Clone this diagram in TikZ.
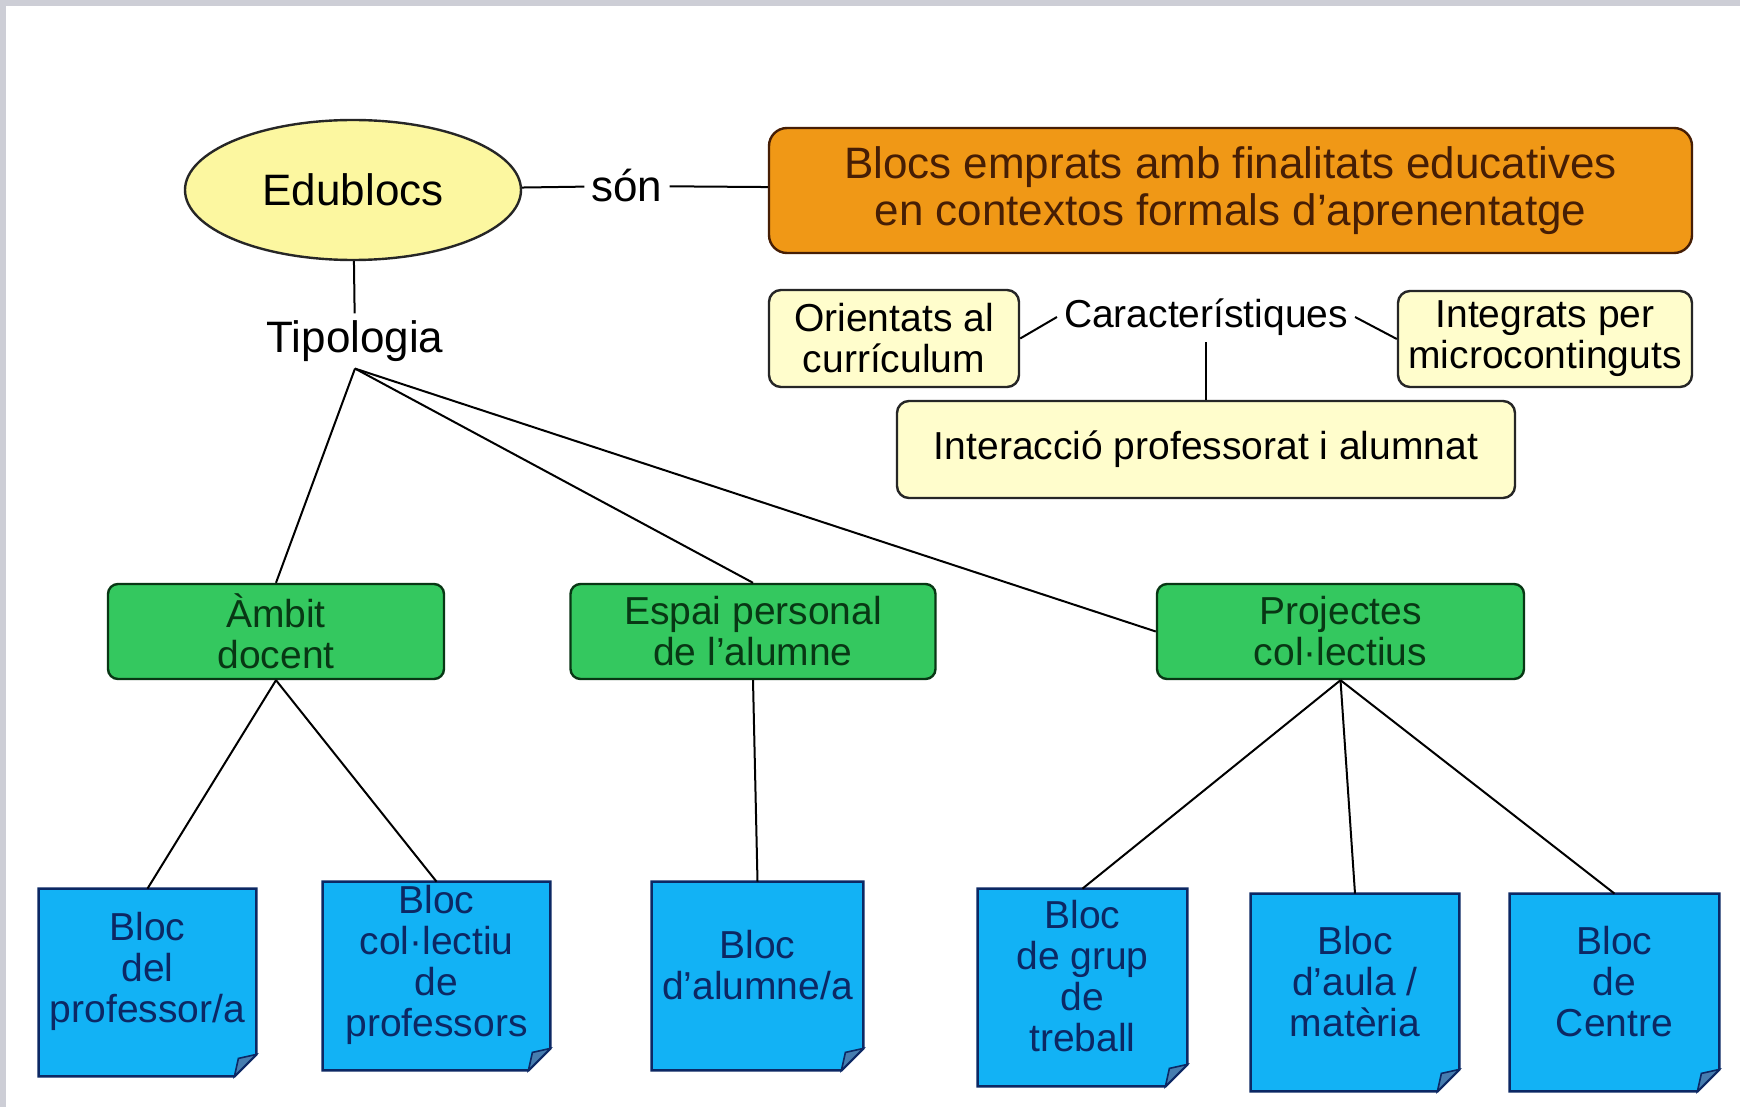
\documentclass[tikz,border=0pt]{standalone}
\usepackage{fontspec}
\setmainfont{Liberation Sans}
\usetikzlibrary{shapes.geometric}
\usetikzlibrary{calc}
\usetikzlibrary{positioning}

\definecolor{framegray}{RGB}{205,206,214}
\definecolor{ellfill}{RGB}{252,247,160}
\definecolor{orangefill}{RGB}{240,152,22}
\definecolor{orangeline}{RGB}{70,30,5}
\definecolor{palefill}{RGB}{255,253,204}
\definecolor{greenfill}{RGB}{52,200,95}
\definecolor{greentext}{RGB}{8,55,20}
\definecolor{bluefill}{RGB}{18,178,245}
\definecolor{bluetext}{RGB}{12,40,100}
\definecolor{foldfill}{RGB}{70,125,175}

\pgfdeclarelayer{sheets}
\pgfsetlayers{sheets,main}

% blue sheet with a folded bottom right corner, drawn behind node #1
\newcommand{\foldsheet}[1]{%
  \begin{pgfonlayer}{sheets}
    \filldraw[sheetline] (#1.north west) -- (#1.north east) -- ([yshift=11pt]#1.south east)
      -- ([xshift=-11pt]#1.south east) -- (#1.south west) -- cycle;
    \filldraw[foldline] ([yshift=11pt]#1.south east) -- ([xshift=-11pt]#1.south east)
      -- ([xshift=-9pt,yshift=9pt]#1.south east) -- cycle;
  \end{pgfonlayer}}

\begin{document}
\begin{tikzpicture}[x=0.5pt, y=-0.5pt,
  conn/.style={line width=1pt, draw=black},
  bigtxt/.style={font={\fontsize{22}{23.5}\selectfont}},
  smalltxt/.style={font={\fontsize{19.5}{20.5}\selectfont}, align=center},
  edubox/.style={ellipse, draw=black!85, line width=1.2pt, fill=ellfill,
    minimum width=168pt, minimum height=70pt, bigtxt},
  defbox/.style={rectangle, rounded corners=9pt, draw=orangeline, line width=1.2pt,
    fill=orangefill, text=orangeline, align=center, bigtxt},
  featbox/.style={rectangle, rounded corners=6pt, draw=black!85, line width=1.2pt,
    fill=palefill, inner xsep=4pt, smalltxt},
  typebox/.style={rectangle, rounded corners=5pt, draw=greentext, line width=1.2pt,
    fill=greenfill, text=greentext, minimum height=47.5pt, smalltxt},
  note/.style={rectangle, inner sep=0pt},
  notelbl/.style={smalltxt, text=bluetext, yshift=5.5pt},
  sheetline/.style={fill=bluefill, draw=bluetext, line width=1.2pt},
  foldline/.style={fill=foldfill, draw=bluetext, line width=0.8pt}]

  % page and grey frame
  \useasboundingbox (0,0) rectangle (1740,1107);
  \begin{pgfonlayer}{sheets}
    \fill[white] (0,0) rectangle (1740,1107);
    \fill[framegray] (0,0) rectangle (1740,6);
    \fill[framegray] (0,0) rectangle (6,1107);
  \end{pgfonlayer}

  % definition
  \node[edubox] (edu) at (353,190) {Edublocs};
  \node[bigtxt] (son) at (627,186) {són};
  \node[defbox, minimum width=461.5pt, minimum height=62.5pt] (def) at (1230.5,190.5)
    {Blocs emprats amb finalitats educatives\\en contextos formals d’aprenentatge};
  \node[bigtxt] (tip) at (355,341) {Tipologia};

  % characteristics
  \node[smalltxt] (car) at (1206,317) {Característiques};
  \node[featbox, minimum width=125pt, minimum height=48.5pt] (ori) at (894,338.5)
    {Orientats al\\currículum};
  \node[featbox, minimum width=147pt, minimum height=48pt] (intg) at (1545,339)
    {Integrats per\\microcontinguts};
  \node[featbox, minimum width=309pt, minimum height=48.5pt] (inter) at (1206,449.5)
    {Interacció professorat i alumnat};

  % types
  \node[typebox, minimum width=168pt] (amb) at (276,631.5) {Àmbit\\docent};
  \node[typebox, minimum width=182.5pt] (esp) at (753,631.5) {Espai personal\\de l’alumne};
  \node[typebox, minimum width=183.5pt] (pro) at (1340.5,631.5) {Projectes\\col·lectius};

  % blocs
  \node[note, minimum width=108.5pt, minimum height=93.5pt,
    label={[notelbl]center:Bloc\\del\\professor/a}] (n1) at (147.5,982.5) {};
  \node[note, minimum width=113.5pt, minimum height=94pt,
    label={[notelbl]center:Bloc\\col·lectiu\\de\\professors}] (n2) at (436.5,976) {};
  \node[note, minimum width=105.5pt, minimum height=94pt,
    label={[notelbl]center:Bloc\\d’alumne/a}] (n3) at (757.5,976) {};
  \node[note, minimum width=104.5pt, minimum height=98.5pt,
    label={[notelbl]center:Bloc\\de grup\\de\\treball}] (n4) at (1082.5,987.5) {};
  \node[note, minimum width=104pt, minimum height=98.5pt,
    label={[notelbl]center:Bloc\\d’aula /\\matèria}] (n5) at (1355,992.5) {};
  \node[note, minimum width=104.5pt, minimum height=98.5pt,
    label={[notelbl]center:Bloc\\de\\Centre}] (n6) at (1614.5,992.5) {};
  \foldsheet{n1}
  \foldsheet{n2}
  \foldsheet{n3}
  \foldsheet{n4}
  \foldsheet{n5}
  \foldsheet{n6}

  % connectors
  \draw[conn] (edu) -- (son);
  \draw[conn] (son) -- (def);
  \draw[conn] (edu) -- (tip);
  \draw[conn] (car.west) -- (ori.east);
  \draw[conn] (car.east) -- (intg.west);
  \draw[conn] (car) -- (inter);
  \draw[conn] (tip.south) -- (amb.north);
  \draw[conn] (tip.south) -- (esp.north);
  \draw[conn] (tip.south) -- (pro.west);
  \draw[conn] (amb.south) -- (n1.north);
  \draw[conn] (amb.south) -- (n2.north);
  \draw[conn] (esp.south) -- (n3.north);
  \draw[conn] (pro.south) -- (n4.north);
  \draw[conn] (pro.south) -- (n5.north);
  \draw[conn] (pro.south) -- (n6.north);
\end{tikzpicture}
\end{document}
